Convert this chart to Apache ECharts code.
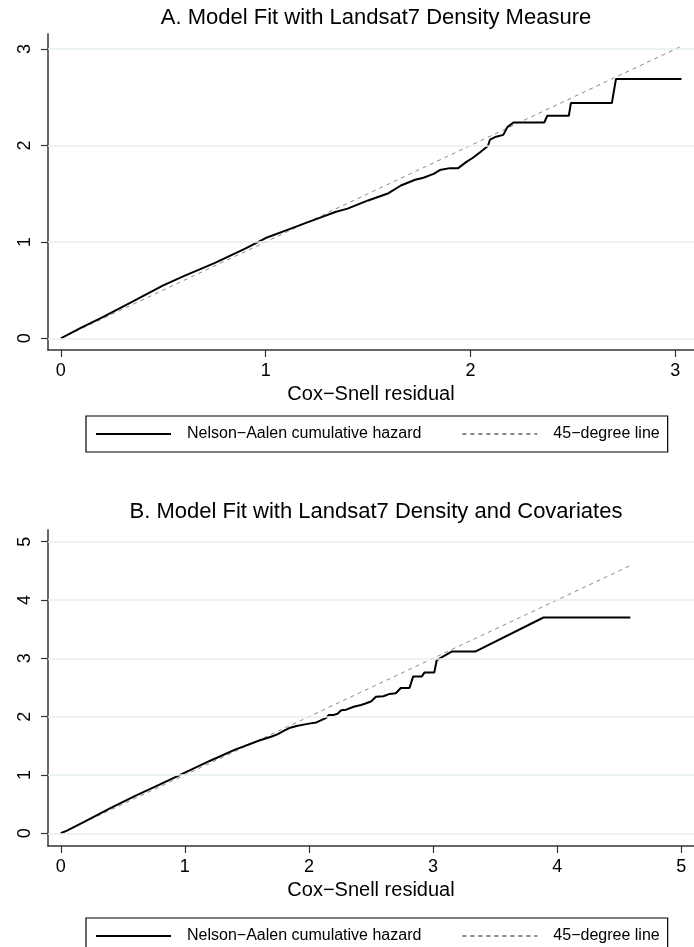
<!DOCTYPE html>
<html><head><meta charset="utf-8">
<script src="https://cdn.jsdelivr.net/npm/echarts@6/dist/echarts.min.js"></script>
<style>html,body{margin:0;padding:0;background:#fff}#c{width:694px;height:947px}</style>
</head><body><div id="c"></div>
<script>
const titleA = "A. Model Fit with Landsat7 Density Measure";
const titleB = "B. Model Fit with Landsat7 Density and Covariates";
const xLabel = "Cox−Snell residual";
const seriesNames = ["Nelson−Aalen cumulative hazard", "45−degree line"];

const ticksAx = [0, 1, 2, 3];
const ticksAy = [0, 1, 2, 3];
const ticksBx = [0, 1, 2, 3, 4, 5];
const ticksBy = [0, 1, 2, 3, 4, 5];

// Panel A: Nelson-Aalen cumulative hazard vs Cox-Snell residual
const naAx = [0, 0.1, 0.2, 0.35, 0.5, 0.6, 0.75, 0.9, 1.0, 1.1, 1.2, 1.26, 1.34, 1.4, 1.5, 1.6, 1.66, 1.73, 1.77, 1.82, 1.85, 1.9, 1.94, 1.98, 2.01, 2.05, 2.085, 2.095, 2.12, 2.16, 2.18, 2.21, 2.36, 2.375, 2.48, 2.49, 2.69, 2.71, 3.03];
const naAy = [0, 0.11, 0.215, 0.38, 0.55, 0.645, 0.78, 0.93, 1.04, 1.12, 1.2, 1.246, 1.31, 1.345, 1.43, 1.505, 1.585, 1.645, 1.665, 1.705, 1.745, 1.765, 1.765, 1.83, 1.87, 1.935, 1.995, 2.06, 2.087, 2.11, 2.19, 2.238, 2.238, 2.308, 2.308, 2.44, 2.44, 2.689, 2.689];
const diagA = [0, 3.035];

// Panel B
const naBx = [0, 0.05, 0.2, 0.4, 0.6, 0.8, 1.0, 1.2, 1.4, 1.6, 1.7, 1.75, 1.8, 1.85, 1.9, 2.0, 2.06, 2.1, 2.14, 2.16, 2.2, 2.23, 2.26, 2.3, 2.36, 2.42, 2.45, 2.5, 2.54, 2.6, 2.65, 2.7, 2.74, 2.81, 2.84, 2.91, 2.93, 3.01, 3.03, 3.15, 3.34, 3.89, 4.59];
const naBy = [0, 0.045, 0.21, 0.43, 0.64, 0.84, 1.04, 1.24, 1.43, 1.59, 1.66, 1.70, 1.76, 1.81, 1.84, 1.88, 1.90, 1.94, 1.98, 2.03, 2.03, 2.05, 2.11, 2.12, 2.17, 2.20, 2.22, 2.26, 2.34, 2.35, 2.39, 2.40, 2.49, 2.49, 2.69, 2.69, 2.755, 2.755, 2.97, 3.115, 3.115, 3.70, 3.70];
const diagB = [0, 4.59];

const FONT = "'Liberation Sans', Arial, Helvetica, sans-serif";
const zip = (xs, ys) => xs.map((x, i) => [x, ys[i]]);

function xAxisFor(gi, min, max, ticks) {
  return {
    gridIndex: gi, type: 'value', min: min, max: max,
    axisLine: { show: true, onZero: false, lineStyle: { color: '#333', width: 1.5 } },
    axisTick: { show: true, length: 7, customValues: ticks, lineStyle: { color: '#333', width: 1.2 } },
    axisLabel: { customValues: ticks, fontSize: 18, color: '#000', margin: 12, fontFamily: FONT },
    splitLine: { show: false },
    name: xLabel, nameLocation: 'middle', nameGap: 34,
    nameTextStyle: { fontSize: 20, color: '#000', fontFamily: FONT }
  };
}
function yAxisFor(gi, min, max, ticks) {
  return {
    gridIndex: gi, type: 'value', min: min, max: max,
    axisLine: { show: true, onZero: false, lineStyle: { color: '#333', width: 1.5 } },
    axisTick: { show: true, length: 7, customValues: ticks, lineStyle: { color: '#333', width: 1.2 } },
    axisLabel: { customValues: ticks, fontSize: 18, color: '#000', margin: 14, rotate: 90, fontFamily: FONT },
    splitLine: { show: false }
  };
}
function gridLines(gi, ticks) {
  return {
    type: 'line', xAxisIndex: gi, yAxisIndex: gi, data: [], silent: true, z: 1,
    markLine: {
      silent: true, symbol: ['none', 'none'], label: { show: false },
      lineStyle: { color: '#e6eff1', width: 1.5, type: 'solid' },
      emphasis: { disabled: true },
      data: ticks.map(v => ({ yAxis: v }))
    }
  };
}
function naSeries(gi, xs, ys) {
  return {
    name: seriesNames[0], type: 'line', xAxisIndex: gi, yAxisIndex: gi,
    data: zip(xs, ys), symbol: 'none', z: 4, silent: true,
    itemStyle: { color: '#000' },
    lineStyle: { color: '#000', width: 2 }
  };
}
function diagSeries(gi, d) {
  return {
    name: seriesNames[1], type: 'line', xAxisIndex: gi, yAxisIndex: gi,
    data: zip(d, d), symbol: 'none', z: 3, silent: true,
    itemStyle: { color: '#8a8a8a' },
    lineStyle: { color: '#8a8a8a', width: 1, type: [4, 4] }
  };
}
function legendFor(top) {
  return {
    left: 86, top: top, orient: 'horizontal', selectedMode: false,
    padding: [10, 8, 10, 9], itemGap: 40, itemWidth: 75, itemHeight: 14,
    borderColor: '#000', borderWidth: 1.2, borderRadius: 0,
    itemStyle: { opacity: 0 },
    textStyle: { fontSize: 16, color: '#000', fontFamily: FONT, padding: [0, 0, 0, 11] },
    data: seriesNames
  };
}

const chart = echarts.init(document.getElementById('c'), null, { renderer: 'canvas' });
chart.setOption({
  backgroundColor: '#fff',
  animation: false,
  title: [
    { text: titleA, left: 376, top: 7, textAlign: 'center', padding: 0,
      textStyle: { fontSize: 22, fontWeight: 'normal', color: '#000', fontFamily: FONT } },
    { text: titleB, left: 376, top: 501, textAlign: 'center', padding: 0,
      textStyle: { fontSize: 22, fontWeight: 'normal', color: '#000', fontFamily: FONT } }
  ],
  legend: [legendFor(416), legendFor(918)],
  grid: [
    { left: 48, top: 34, width: 656, height: 316, containLabel: false },
    { left: 48, top: 530, width: 656, height: 316, containLabel: false }
  ],
  xAxis: [xAxisFor(0, -0.0625, 3.091, ticksAx), xAxisFor(1, -0.103, 5.103, ticksBx)],
  yAxis: [yAxisFor(0, -0.121, 3.156, ticksAy), yAxisFor(1, -0.218, 5.2, ticksBy)],
  series: [
    gridLines(0, ticksAy), diagSeries(0, diagA), naSeries(0, naAx, naAy),
    gridLines(1, ticksBy), diagSeries(1, diagB), naSeries(1, naBx, naBy)
  ]
});
</script></body></html>
